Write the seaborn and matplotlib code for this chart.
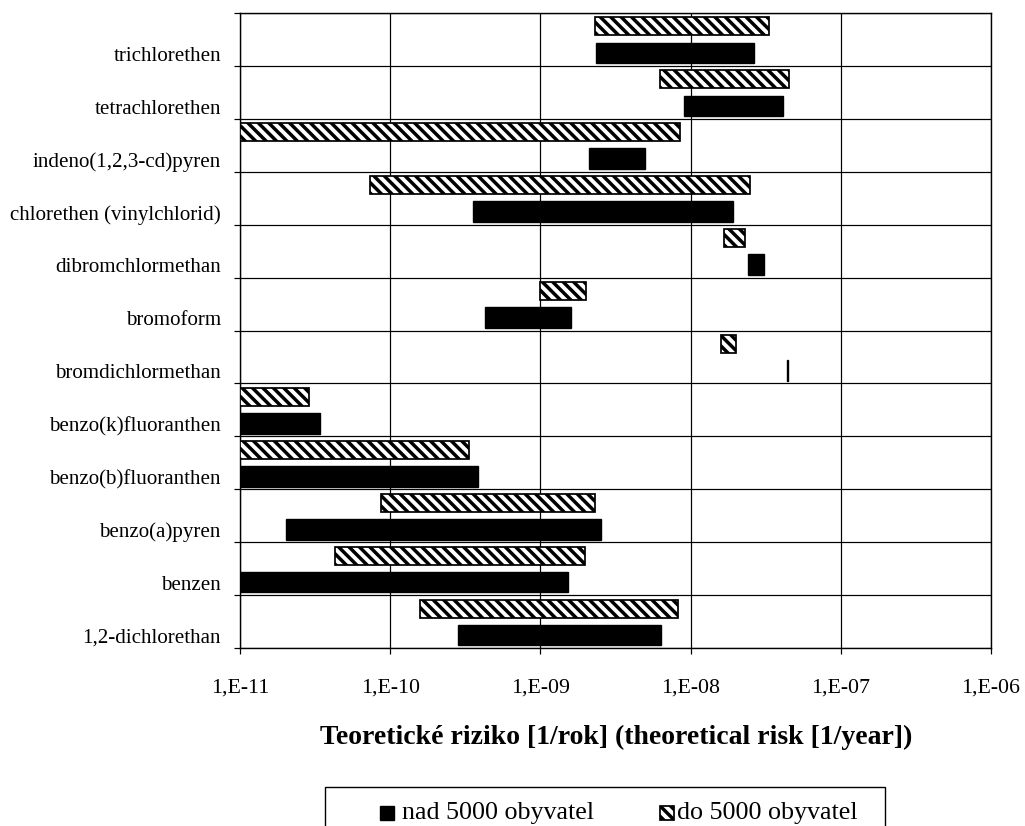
import matplotlib
matplotlib.use("Agg")
import matplotlib.pyplot as plt
import seaborn as sns
import numpy as np
from matplotlib.patches import Rectangle
from matplotlib.ticker import FixedLocator, NullLocator, FixedFormatter

# ---- data ----
categories = ["trichlorethen", "tetrachlorethen", "indeno(1,2,3-cd)pyren",
              "chlorethen (vinylchlorid)", "dibromchlormethan", "bromoform",
              "bromdichlormethan", "benzo(k)fluoranthen", "benzo(b)fluoranthen",
              "benzo(a)pyren", "benzen", "1,2-dichlorethan"]

nad_low  = [2.34e-9, 9.1e-9, 2.12e-9, 3.54e-10, 2.40e-8, 4.3e-10, 4.35e-8,
            1e-11, 1e-11, 2.03e-11, 1e-11, 2.82e-10]
nad_high = [2.65e-8, 4.1e-8, 4.97e-9, 1.92e-8, 3.07e-8, 1.6e-9, 4.45e-8,
            3.39e-11, 3.86e-10, 2.55e-9, 1.53e-9, 6.34e-9]
do_low   = [2.31e-9, 6.27e-9, 1e-11, 7.33e-11, 1.67e-8, 9.96e-10, 1.6e-8,
            1e-11, 1e-11, 8.69e-11, 4.3e-11, 1.57e-10]
do_high  = [3.35e-8, 4.52e-8, 8.51e-9, 2.5e-8, 2.29e-8, 2.0e-9, 2.02e-8,
            2.86e-11, 3.34e-10, 2.31e-9, 1.99e-9, 8.28e-9]

xticks = [1e-11, 1e-10, 1e-9, 1e-8, 1e-7, 1e-6]
xtick_labels = ["1,E-11", "1,E-10", "1,E-09", "1,E-08", "1,E-07", "1,E-06"]
series_names = ["nad 5000 obyvatel", "do 5000 obyvatel"]
xlabel = "Teoretické riziko [1/rok] (theoretical risk [1/year])"

# ---- style ----
sns.set_theme(style="white")
plt.rcParams["font.family"] = ["Liberation Serif", "DejaVu Serif"]
plt.rcParams["hatch.linewidth"] = 2.0
plt.rcParams["hatch.color"] = "black"

W, H = 1025, 826
DPI = 125
fig = plt.figure(figsize=(W / DPI, H / DPI), dpi=DPI)
ax = fig.add_axes([240 / W, 1 - 648 / H, (991 - 240) / W, (648 - 13) / H])

n = len(categories)
idx = np.arange(n)
nad_low_a = np.array(nad_low); nad_high_a = np.array(nad_high)
do_low_a = np.array(do_low); do_high_a = np.array(do_high)

HATCH = "\\\\\\\\"
ax.barh(idx + 0.255, do_high_a - do_low_a, left=do_low_a, height=0.34,
        color="white", edgecolor="black", linewidth=1.0, hatch=HATCH, zorder=3)
ax.barh(idx + 0.755, nad_high_a - nad_low_a, left=nad_low_a, height=0.39,
        color="black", edgecolor="black", linewidth=0.8, zorder=3)

ax.set_xscale("log")
ax.set_xlim(xticks[0], xticks[-1])
ax.set_ylim(n, 0)

ax.xaxis.set_major_locator(FixedLocator(xticks))
ax.xaxis.set_major_formatter(FixedFormatter(xtick_labels))
ax.xaxis.set_minor_locator(NullLocator())

ax.yaxis.set_major_locator(FixedLocator(idx + 0.77))
ax.yaxis.set_major_formatter(FixedFormatter(categories))
ax.yaxis.set_minor_locator(FixedLocator(np.arange(n + 1)))

ax.tick_params(axis="y", which="major", length=0, pad=11, labelsize=12.1, colors="black")
ax.tick_params(axis="y", which="minor", length=3.5, width=0.7, color="black", direction="out", left=True)
ax.tick_params(axis="x", which="major", length=3.5, width=0.7, color="black", direction="out",
               pad=14, labelsize=12.6, bottom=True, labelcolor="black")

ax.grid(False)
ax.xaxis.grid(True, which="major", color="black", linewidth=0.7, zorder=0)
ax.yaxis.grid(True, which="minor", color="black", linewidth=0.7, zorder=0)
ax.set_axisbelow(True)
for s in ax.spines.values():
    s.set_color("black")
    s.set_linewidth(0.8)
    s.set_visible(True)

fig.text(616 / W, 1 - 737 / H, xlabel, ha="center", va="center",
         fontsize=16, fontweight="bold", color="black")

# ---- legend (drawn in figure pixels) ----
def fx(px):
    return px / W

def fy(py):
    return 1 - py / H

frame = Rectangle((fx(325), fy(840)), fx(885) - fx(325), fy(787) - fy(840),
                  transform=fig.transFigure, facecolor="white", edgecolor="black",
                  linewidth=0.8, clip_on=False)
fig.patches.append(frame)
sq1 = Rectangle((fx(380), fy(820)), fx(394) - fx(380), fy(806) - fy(820),
                transform=fig.transFigure, facecolor="black", edgecolor="black",
                linewidth=0.8)
fig.patches.append(sq1)
sq2 = Rectangle((fx(660), fy(820)), fx(674) - fx(660), fy(806) - fy(820),
                transform=fig.transFigure, facecolor="white", edgecolor="black",
                linewidth=1.0, hatch=HATCH)
fig.patches.append(sq2)
fig.text(fx(402), fy(819), series_names[0], ha="left", va="baseline",
         fontsize=15, color="black")
fig.text(fx(677), fy(819), series_names[1], ha="left", va="baseline",
         fontsize=15, color="black")

fig.savefig("out.png", dpi=DPI, facecolor="white")
